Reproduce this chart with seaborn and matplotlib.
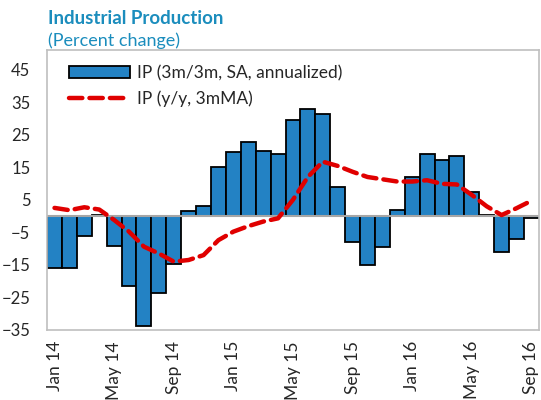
import matplotlib
matplotlib.use("Agg")
import matplotlib.pyplot as plt
import numpy as np
import pandas as pd
import seaborn as sns

# monthly data, Jan 2014 - Sep 2016
months = pd.date_range("2014-01-01", "2016-09-01", freq="MS").strftime("%b %y").tolist()

ip_3m3m = [-16.1, -16.0, -6.0, 0.4, -9.1, -21.6, -33.7, -23.6, -14.8, 1.5, 3.0, 15.0,
           19.6, 22.6, 20.0, 19.0, 29.5, 33.0, 31.2, 9.0, -8.1, -15.1, -9.5, 2.0,
           12.0, 19.0, 17.1, 18.5, 7.5, 0.4, -11.0, -7.1, -0.5]

ip_yy = [2.5, 1.8, 2.7, 2.0, -1.2, -4.8, -9.4, -11.5, -14.0, -13.5, -12.0, -7.4,
         -4.8, -3.1, -1.7, -0.7, 5.0, 12.0, 16.7, 15.4, 13.6, 12.0, 11.3, 10.6,
         10.6, 11.0, 9.9, 9.7, 6.5, 3.0, 0.3, 2.4, 4.7]

tick_labels = ["Jan 14", "May 14", "Sep 14", "Jan 15", "May 15", "Sep 15",
               "Jan 16", "May 16", "Sep 16"]

sns.set_style("white")
plt.rcParams['font.family'] = ['Lato', 'DejaVu Sans']

df = pd.DataFrame({'month': months, 'bars': ip_3m3m, 'line': ip_yy,
                   'pos': np.arange(len(months))})

fig = plt.figure(figsize=(5.41, 4.0), dpi=100)
ax = fig.add_axes([0.087, 0.175, 0.909, 0.70])

sns.barplot(data=df, x='month', y='bars', color='#2382C4', saturation=1,
            width=1.0, edgecolor='black', linewidth=1.3,
            label='IP (3m/3m, SA, annualized)', ax=ax)
sns.lineplot(data=df, x='pos', y='line', color='#E00000', linewidth=3.2,
             dashes=False, label='IP (y/y, 3mMA)', ax=ax)
ax.lines[-1].set_dashes((3, 1.6))
ax.lines[-1].set_dash_capstyle('round')

ax.axhline(0, color='#A6A6A6', linewidth=1.5, zorder=1)

ax.set_xlim(-0.5, len(months) - 0.5)
ax.set_ylim(-35, 51)
ax.set_yticks(np.arange(-35, 46, 10))
ax.set_xticks(np.arange(0, len(months), 4))
ax.set_xticklabels(tick_labels, rotation=90)
ax.set_xlabel("")
ax.set_ylabel("")
ax.tick_params(axis='y', direction='in', length=5, color='#BFBFBF',
               labelsize=12, pad=12)
ax.tick_params(axis='x', length=0, labelsize=12.5, pad=8)

#gray box around the plot
for spine in ax.spines.values():
    spine.set_color('#BFBFBF')
    spine.set_linewidth(1.2)

# bars first in the legend
handles, labels = ax.get_legend_handles_labels()
order = [labels.index('IP (3m/3m, SA, annualized)'), labels.index('IP (y/y, 3mMA)')]
ax.legend([handles[i] for i in order], [labels[i] for i in order],
          loc='upper left', bbox_to_anchor=(0.02, 0.99), frameon=False,
          fontsize=12.5, handlelength=3.5, handletextpad=0.4,
          labelspacing=0.55, borderaxespad=0.3)

fig.text(0.088, 0.94, "Industrial Production", fontsize=13.5, fontweight='bold',
         color='#1B8DBD', ha='left')
fig.text(0.088, 0.885, "(Percent change)", fontsize=13, color='#1B8DBD', ha='left')

fig.savefig("out.png", dpi=100)
